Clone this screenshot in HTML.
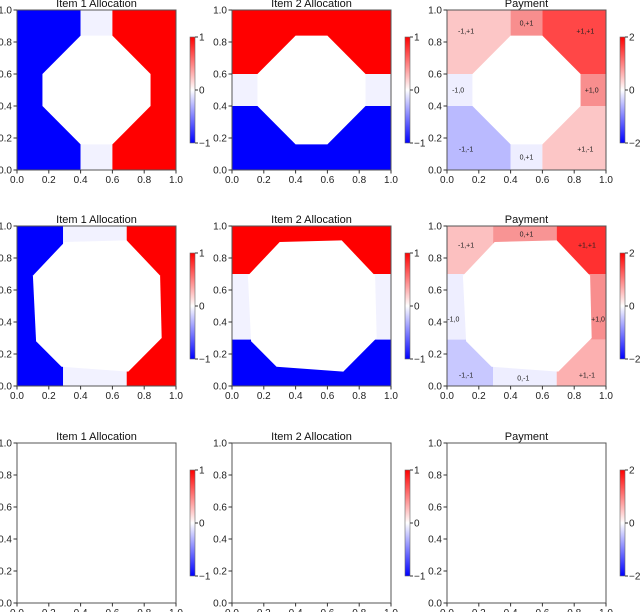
<!DOCTYPE html>
<html><head><meta charset="utf-8"><style>
body{margin:0;background:#fff;}
svg{display:block;font-family:"Liberation Sans","DejaVu Sans",sans-serif;}
</style></head><body>
<svg id="fig" width="640" height="612" viewBox="0 0 640 612" xmlns="http://www.w3.org/2000/svg">
<defs><linearGradient id="bwr" x1="0" y1="1" x2="0" y2="0"><stop offset="0" stop-color="#0000ff"/><stop offset="0.5" stop-color="#ffffff"/><stop offset="1" stop-color="#ff0000"/></linearGradient></defs>
</svg>
<script>
const ticks=[0,0.2,0.4,0.6,0.8,1.0];
const tickLabels=["0.0","0.2","0.4","0.6","0.8","1.0"];
const colX=[17,232,447];
const rowY=[10,226,443];
const W=159,H=160;
const titles=["Item 1 Allocation","Item 2 Allocation","Payment"];
// octagon boundaries per row (data coords)
const oct1=[[0.4,0.84],[0.6,0.84],[0.84,0.6],[0.84,0.4],[0.6,0.16],[0.4,0.16],[0.16,0.4],[0.16,0.6]];
const oct2=[[0.3,0.9],[0.69,0.91],[0.9,0.69],[0.91,0.3],[0.7,0.09],[0.28,0.12],[0.12,0.28],[0.1,0.69]];
const RED="#ff0000",BLUE="#0000ff",PALE="#f2f2ff";
// regions: [x0,y0,x1,y1,color]
const item1Row1=[[0,0,0.4,1,BLUE],[0.4,0,0.6,1,PALE],[0.6,0,1,1,RED]];
const item2Row1=[[0,0.6,1,1,RED],[0,0.4,1,0.6,PALE],[0,0,1,0.4,BLUE]];
const payRow1=[[0,0.6,0.4,1,"#fcc6c6"],[0.4,0.6,0.6,1,"#f88e8e"],[0.6,0.6,1,1,"#ff4747"],[0,0.4,0.4,0.6,"#eeeeff"],[0.6,0.4,1,0.6,"#f88e8e"],[0,0,0.4,0.4,"#babaff"],[0.4,0,0.6,0.4,"#eeeeff"],[0.6,0,1,0.4,"#fcc6c6"]];
const payLabels1=[["-1,+1",0.12,0.87],["0,+1",0.5,0.92],["+1,+1",0.87,0.87],["-1,0",0.07,0.5],["+1,0",0.91,0.5],["-1,-1",0.12,0.13],["0,+1",0.5,0.08],["+1,-1",0.87,0.13]];
const item1Row2=[[0,0,0.29,1,BLUE],[0.29,0,0.69,1,PALE],[0.69,0,1,1,RED]];
const item2Row2=[[0,0.7,1,1,RED],[0,0.29,1,0.7,PALE],[0,0,1,0.29,BLUE]];
const payRow2=[[0,0.7,0.29,1,"#fcc0c0"],[0.29,0.7,0.69,1,"#f89494"],[0.69,0.7,1,1,"#ff3030"],[0,0.29,0.29,0.7,"#eeeeff"],[0.69,0.29,1,0.7,"#f88e8e"],[0,0,0.29,0.29,"#c8c8ff"],[0.29,0,0.69,0.29,"#eeeeff"],[0.69,0,1,0.29,"#fcb0b0"]];
const payLabels2=[["-1,+1",0.12,0.88],["0,+1",0.5,0.95],["+1,+1",0.88,0.88],["-1,0",0.04,0.42],["+1,0",0.95,0.42],["-1,-1",0.12,0.07],["0,-1",0.48,0.05],["+1,-1",0.88,0.07]];
const cbLabels=[["1","0","\u22121"],["1","0","\u22121"],["2","0","\u22122"]];
const NS="http://www.w3.org/2000/svg";
const svg=document.getElementById('fig');
function mk(tag,attrs,parent){const e=document.createElementNS(NS,tag);for(const k in attrs)e.setAttribute(k,attrs[k]);(parent||svg).appendChild(e);return e;}
const panels=[[item1Row1,item2Row1,payRow1],[item1Row2,item2Row2,payRow2],[[],[],[]]];
const octs=[oct1,oct2,null];
const labs=[payLabels1,payLabels2,null];
for(let r=0;r<3;r++){for(let c=0;c<3;c++){
  const x0=colX[c],y0=rowY[r];
  const sx=v=>x0+v*W, sy=v=>y0+H-v*H;
  const g=mk('g',{});
  
  
  mk('rect',{x:x0,y:y0,width:W,height:H,fill:'#ffffff'},g);
  for(const reg of panels[r][c]){
    const e=mk('rect',{x:sx(reg[0]),y:sy(reg[3]),width:(reg[2]-reg[0])*W,height:(reg[3]-reg[1])*H,fill:reg[4]},g);
    
    
  }
  if(octs[r]){
    const p=mk('polygon',{points:octs[r].map(q=>sx(q[0])+','+sy(q[1])).join(' '),fill:'#ffffff'},g);
    
    
  }
  if(c===2&&labs[r]){for(const l of labs[r]){
    const t=mk('text',{x:sx(l[1]),y:sy(l[2])+2.5,'font-size':7,'text-anchor':'middle',fill:'#222'},g);t.textContent=l[0];
    
    
  }}
  mk('rect',{x:x0,y:y0,width:W,height:H,fill:'none',stroke:'#555','stroke-width':1},g);
  const tt=mk('text',{x:x0+W/2,y:y0-3,'font-size':11,'text-anchor':'middle',fill:'#111'},g);tt.textContent=titles[c];
  
  
  ticks.forEach((t,i)=>{
    mk('line',{x1:sx(t),x2:sx(t),y1:y0+H,y2:y0+H+3.5,stroke:'#333'},g);
    const a=mk('text',{x:sx(t),y:y0+H+13,'font-size':10,'text-anchor':'middle',fill:'#222'},g);a.textContent=tickLabels[i];
    
    
    mk('line',{x1:x0-3.5,x2:x0,y1:sy(t),y2:sy(t),stroke:'#333'},g);
    const b=mk('text',{x:x0-5,y:sy(t)+3.5,'font-size':10,'text-anchor':'end',fill:'#222'},g);b.textContent=tickLabels[i];
    
    
  });
  // colorbar
  const cx=x0+W+14,cy=y0+27,ch=106;
  const cb=mk('rect',{x:cx,y:cy,width:5,height:ch,fill:'url(#bwr)',stroke:'#666','stroke-width':0.6},g);
  
  
  cbLabels[c].forEach((s,i)=>{
    const yy=cy+i*ch/2;
    mk('line',{x1:cx+5,x2:cx+8,y1:yy,y2:yy,stroke:'#333'},g);
    const t=mk('text',{x:cx+9,y:yy+3.5,'font-size':10,fill:'#222'},g);t.textContent=s;
    
    
  });
}}
</script>
</body></html>
